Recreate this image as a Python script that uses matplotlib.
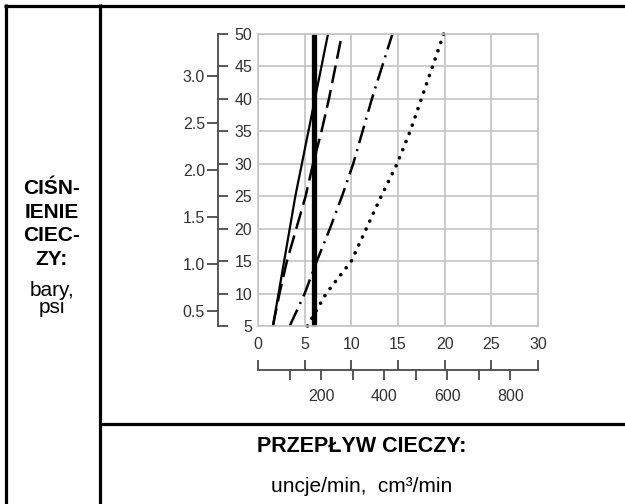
import matplotlib
matplotlib.use("Agg")
import matplotlib.pyplot as plt
from matplotlib.lines import Line2D

plt.rcParams["font.family"] = ["Liberation Sans", "DejaVu Sans"]
plt.rcParams["lines.scale_dashes"] = False

W, H = 625, 504
DPI = 100
OZ_TO_CC = 29.5735
PSI_PER_BAR = 14.5038

# data (psi vs. oz/min)
psi = [5, 10, 15, 20, 25, 30, 35, 40, 45, 50]
solid_oz = [1.6, 2.2, 2.8, 3.4, 4.0, 4.7, 5.4, 6.1, 6.8, 7.5]
dashed_oz = [1.6, 2.3, 3.1, 4.1, 5.1, 5.9, 6.8, 7.6, 8.3, 9.0]
dashdot_oz = [3.4, 5.0, 6.3, 7.7, 9.0, 10.2, 11.2, 12.2, 13.3, 14.4]
dotted_oz = [5.3, 7.3, 10.0, 11.6, 13.2, 14.9, 16.3, 17.5, 18.7, 19.9]
vertical_oz = [6.0, 6.0]
vertical_psi = [5, 50]

oz_ticks = [0, 5, 10, 15, 20, 25, 30]
psi_ticks = [5, 10, 15, 20, 25, 30, 35, 40, 45, 50]
bar_ticks = [0.5, 1.0, 1.5, 2.0, 2.5, 3.0]
cc_ticks = [100, 200, 300, 400, 500, 600, 700, 800]
cc_labels = ["", "200", "", "400", "", "600", "", "800"]

left_title = "CIŚN-\nIENIE\nCIEC-\nZY:"
left_units = "bary,\npsi"
bottom_title = "PRZEPŁYW CIECZY:"
bottom_units = "uncje/min,  cm³/min"

AXIS_COLOR = "#4a4a4a"
GRID_COLOR = "#c4c4c4"
LABEL_COLOR = "#333333"
FS = 11.5


def box(x0, y0, x1, y1):
    """pixel box (top-left origin) -> fig fraction rect"""
    return [x0 / W, 1 - y1 / H, (x1 - x0) / W, (y1 - y0) / H]


def px(n):
    return n * 72 / DPI


fig = plt.figure(figsize=(W / DPI, H / DPI), dpi=DPI)

# main chart
ax = fig.add_axes(box(258, 34, 538, 326))
ax.set_xlim(0, 30)
ax.set_ylim(5, 50)
ax.set_xticks(oz_ticks)
ax.set_yticks(psi_ticks)
ax.set_yticklabels([])
ax.grid(True, color=GRID_COLOR, linewidth=1.2)
ax.set_axisbelow(True)
for s in ax.spines.values():
    s.set_color(GRID_COLOR)
    s.set_linewidth(1.2)
ax.tick_params(length=0, labelsize=FS, labelcolor=LABEL_COLOR, pad=px(11))

ax.plot(solid_oz, psi, color="black", lw=1.6, solid_capstyle="butt", clip_on=False)
ax.plot(dashed_oz, psi, color="black", lw=1.8, linestyle=(0, (13, 5)),
        dash_capstyle="butt", clip_on=False)
ax.plot(dashdot_oz, psi, color="black", lw=1.8, linestyle=(0, (13, 4.5, 1.5, 4.5)),
        dash_capstyle="butt", clip_on=False)
ax.plot(dotted_oz, psi, color="black", lw=2.6, linestyle=(0, (0.1, 6.2)),
        dash_capstyle="round", clip_on=False)
ax.plot(vertical_oz, vertical_psi, color="black", lw=3.8, solid_capstyle="butt", clip_on=False)

# psi scale: spine at x=218 with ticks pointing right
ax_psi = fig.add_axes(box(218, 34, 218.01, 326))
ax_psi.set_ylim(5, 50)
ax_psi.patch.set_visible(False)
ax_psi.set_xticks([])
for k in ["top", "bottom", "left"]:
    ax_psi.spines[k].set_visible(False)
ax_psi.spines["right"].set_color(AXIS_COLOR)
ax_psi.spines["right"].set_linewidth(1.3)
ax_psi.yaxis.tick_right()
ax_psi.set_yticks(psi_ticks)
ax_psi.tick_params(axis="y", direction="out", length=px(10), width=1.3, color=AXIS_COLOR,
                   labelsize=FS, labelcolor=LABEL_COLOR, pad=px(24))
for lbl in ax_psi.get_yticklabels():
    lbl.set_ha("right")

# bar scale: same spine, ticks pointing left
ax_bar = fig.add_axes(box(218, 34, 218.01, 326))
ax_bar.set_ylim(5 / PSI_PER_BAR, 50 / PSI_PER_BAR)
ax_bar.patch.set_visible(False)
ax_bar.set_xticks([])
for k in ["top", "bottom", "right", "left"]:
    ax_bar.spines[k].set_visible(False)
ax_bar.set_yticks(bar_ticks)
ax_bar.set_yticklabels([f"{b:.1f}" for b in bar_ticks])
ax_bar.tick_params(axis="y", direction="out", length=px(11), width=1.3, color=AXIS_COLOR,
                   labelsize=FS, labelcolor=LABEL_COLOR, pad=px(2))

# ounce / cc scale below the chart
ax_oz = fig.add_axes(box(258, 369.99, 538, 370))
ax_oz.set_xlim(0, 30)
ax_oz.patch.set_visible(False)
ax_oz.set_yticks([])
for k in ["top", "left", "right"]:
    ax_oz.spines[k].set_visible(False)
ax_oz.spines["bottom"].set_color(AXIS_COLOR)
ax_oz.spines["bottom"].set_linewidth(1.3)
ax_oz.xaxis.tick_top()
ax_oz.set_xticks(oz_ticks)
ax_oz.set_xticklabels([])
ax_oz.tick_params(axis="x", direction="out", length=px(10), width=1.3, color=AXIS_COLOR)

ax_cc = fig.add_axes(box(258, 369.99, 538, 370))
ax_cc.set_xlim(0, 30 * OZ_TO_CC)
ax_cc.patch.set_visible(False)
ax_cc.set_yticks([])
for s in ax_cc.spines.values():
    s.set_visible(False)
ax_cc.set_xticks(cc_ticks)
ax_cc.set_xticklabels(cc_labels)
ax_cc.tick_params(axis="x", direction="out", length=px(10), width=1.3, color=AXIS_COLOR,
                  labelsize=FS, labelcolor=LABEL_COLOR, pad=px(9))

# table frame
frame = [
    ([4, 625], [5.5, 5.5]),
    ([5.5, 5.5], [4, 504]),
    ([99.5, 99.5], [4, 504]),
    ([99.5, 625], [423.5, 423.5]),
]
for xs, ys in frame:
    fig.add_artist(Line2D([x / W for x in xs], [1 - y / H for y in ys],
                          transform=fig.transFigure, color="black", linewidth=px(3.2),
                          solid_capstyle="butt"))

# labels
fig.text(52 / W, 1 - 224 / H, left_title, ha="center", va="center", fontsize=15,
         fontweight="bold", linespacing=1.32)
fig.text(52 / W, 1 - 299 / H, left_units, ha="center", va="center", fontsize=15,
         linespacing=0.85)
fig.text(362 / W, 1 - 446 / H, bottom_title, ha="center", va="center", fontsize=15.5,
         fontweight="bold")
fig.text(362 / W, 1 - 487 / H, bottom_units, ha="center", va="center", fontsize=15)

fig.savefig("out.png", dpi=DPI, facecolor="white")
